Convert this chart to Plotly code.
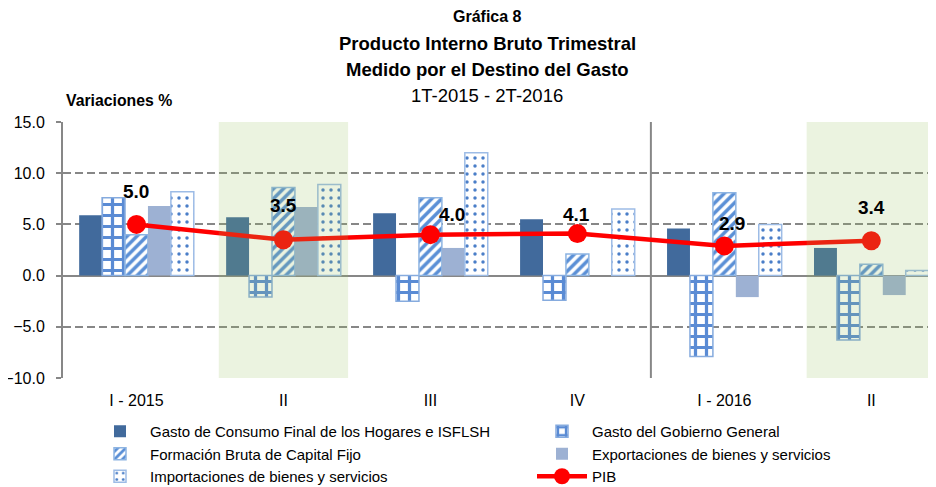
import plotly.graph_objects as go

# ---------------- data ----------------
quarters = ["I - 2015", "II", "III", "IV", "I - 2016", "II"]
consumo = [5.9, 5.7, 6.1, 5.5, 4.6, 2.7]
gobierno = [7.6, -2.1, -2.5, -2.4, -7.9, -6.3]
fbcf = [4.0, 8.6, 7.6, 2.1, 8.1, 1.1]
exportaciones = [6.8, 6.7, 2.7, 0.0, -2.1, -1.9]
importaciones = [8.2, 8.9, 12.0, 6.5, 5.0, 0.5]
pib = [5.0, 3.5, 4.0, 4.1, 2.9, 3.4]
highlighted = [1, 5]          # quarters shaded in green (II of each year)
year_break_after = 3          # separator between 2015 and 2016

series_names = [
    "Gasto de Consumo Final de los Hogares e ISFLSH",
    "Gasto del Gobierno General",
    "Formación Bruta de Capital Fijo",
    "Exportaciones de bienes y servicios",
    "Importaciones de bienes y servicios",
    "PIB",
]

x = list(range(len(quarters)))

SANS = "Liberation Sans, Arial, sans-serif"
GRID = "#878787"

# plot area in window pixels (page body adds an 8px offset)
OFF = 8
WIN_W, WIN_H = 936, 487
PL, PR, PT, PB = 63, 936, 122, 378
PW, PH = PR - PL, PB - PT
FIG_W, FIG_H = WIN_W - OFF, WIN_H - OFF


def px_x(wx):
    return (wx - PL) / PW


def px_y(wy):
    return (PB - wy) / PH


fig = go.Figure()

fig.add_trace(go.Bar(x=x, y=consumo, name=series_names[0], legend="legend",
                     marker=dict(color="#416A9C", line=dict(width=0))))
fig.add_trace(go.Bar(x=x, y=gobierno, name=series_names[1], legend="legend2",
                     marker=dict(color="white",
                                 line=dict(color="#86ABDE", width=1.5),
                                 pattern=dict(shape="+", fgcolor="#5A8BD4", bgcolor="white",
                                              size=11, solidity=0.5, fillmode="replace"))))
fig.add_trace(go.Bar(x=x, y=fbcf, name=series_names[2], legend="legend",
                     marker=dict(color="white",
                                 line=dict(color="#8DB4E2", width=1.5),
                                 pattern=dict(shape="/", fgcolor="#5A8FD6", bgcolor="white",
                                              size=7, solidity=0.5, fillmode="replace"))))
fig.add_trace(go.Bar(x=x, y=exportaciones, name=series_names[3], legend="legend2",
                     marker=dict(color="#9DB1D3", line=dict(width=0))))
fig.add_trace(go.Bar(x=x, y=importaciones, name=series_names[4], legend="legend",
                     marker=dict(color="white",
                                 line=dict(color="#9DBCE6", width=1.5),
                                 pattern=dict(shape=".", fgcolor="#4A7EC8", bgcolor="white",
                                              size=8, solidity=0.15, fillmode="replace"))))
fig.add_trace(go.Scatter(x=x, y=pib, name=series_names[5], mode="lines+markers",
                         legend="legend2",
                         line=dict(color="#FF0000", width=4.5),
                         marker=dict(color="#FF0000", size=19)))

# PIB value labels
label_shift = [(0, 33), (0, 34), (22, 20), (-1, 19), (8, 22), (0, 33)]
for xi, v, (dx, dy) in zip(x, pib, label_shift):
    fig.add_annotation(x=xi, y=v, text=f"<b>{v:.1f}</b>", showarrow=False,
                       xshift=dx, yshift=dy,
                       font=dict(family=SANS, size=19, color="black"))

# green highlight bands (semi-transparent overlay)
for h in highlighted:
    fig.add_shape(type="rect", xref="x", yref="y", x0=h - 0.44, x1=h + 0.44,
                  y0=-10, y1=15, layer="above", line=dict(width=0),
                  fillcolor="rgba(148,191,90,0.19)")

# year separator
fig.add_shape(type="line", xref="x", yref="y", x0=year_break_after + 0.5,
              x1=year_break_after + 0.5, y0=-10, y1=15, layer="below",
              line=dict(color=GRID, width=2))

# titles
titles = [
    ("<b>Gráfica 8</b>", 16, 16),
    ("<b>Producto Interno Bruto Trimestral</b>", 18.5, 43),
    ("<b>Medido por el Destino del Gasto</b>", 18.5, 69),
    ("1T-2015 - 2T-2016", 18.5, 95),
]
for txt, size, ypix in titles:
    fig.add_annotation(xref="paper", yref="paper", x=px_x(487),
                       y=px_y(ypix), text=txt, showarrow=False,
                       xanchor="center", yanchor="middle",
                       font=dict(family=SANS, size=size, color="black"))
fig.add_annotation(xref="paper", yref="paper", x=px_x(64), y=px_y(100),
                   text="<b>Variaciones %</b>", showarrow=False,
                   xanchor="left", yanchor="middle",
                   font=dict(family=SANS, size=15.8, color="black"))

legend_common = dict(orientation="v", yanchor="top", xanchor="left", itemwidth=50,
                     font=dict(family=SANS, size=15, color="black"),
                     traceorder="normal", bgcolor="rgba(0,0,0,0)",
                     tracegroupgap=0)

fig.update_layout(
    width=FIG_W, height=FIG_H,
    margin=dict(l=PL - OFF, r=WIN_W - PR, t=PT - OFF, b=WIN_H - PB,
                autoexpand=False),
    paper_bgcolor="white", plot_bgcolor="white",
    font=dict(family=SANS, color="black"),
    barmode="group", bargap=0.22, bargroupgap=0,
    showlegend=True,
    legend=dict(x=px_x(90), y=px_y(415), **legend_common),
    legend2=dict(x=px_x(532), y=px_y(415), **legend_common),
    xaxis=dict(range=[-0.5, 5.44], tickmode="array", tickvals=x, ticktext=quarters,
               showgrid=False, zeroline=False, showline=False,
               ticks="outside", ticklen=8, tickcolor="rgba(0,0,0,0)",
               tickfont=dict(family=SANS, size=16, color="black")),
    yaxis=dict(range=[-10, 15], dtick=5, tick0=0, tickformat=".1f",
               showgrid=True, gridcolor=GRID, gridwidth=1.5, griddash="8px,4px",
               zeroline=True, zerolinecolor=GRID, zerolinewidth=1.5,
               showline=True, linecolor=GRID, linewidth=2,
               ticks="outside", ticklen=5, tickcolor=GRID, tickwidth=1.5,
               ticklabelstandoff=8,
               tickfont=dict(family=SANS, size=16, color="black")),
)

fig.write_html("out.html")
